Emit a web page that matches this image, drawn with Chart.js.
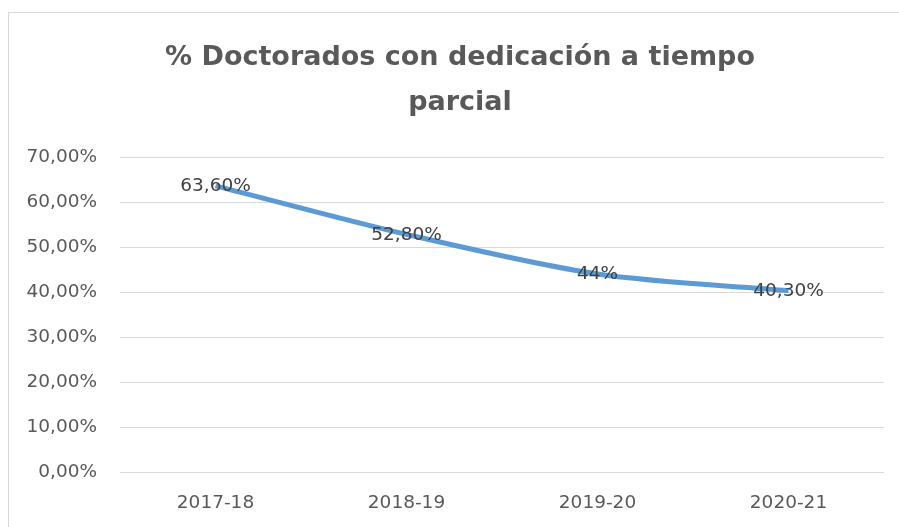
<!DOCTYPE html>
<html>
<head>
<meta charset="utf-8">
<script src="https://cdn.jsdelivr.net/npm/chart.js@4"></script>
<style>
  html, body { margin: 0; padding: 0; background: #fff; }
  #wrap { position: relative; width: 899px; height: 527px; overflow: hidden; }
  #frame { position: absolute; left: 8px; top: 12px; width: 905px; height: 530px; border: 1px solid #d9d9d9; box-sizing: border-box; }
  canvas { position: absolute; left: 0; top: 0; }
</style>
</head>
<body>
<div id="wrap">
  <div id="frame"></div>
  <canvas id="chart" width="899" height="527"></canvas>
</div>
<script>
// ── DATA ──
const categories = ['2017-18', '2018-19', '2019-20', '2020-21']
const valores = [63.6, 52.8, 44, 40.3]
const etiquetas = ['63,60%', '52,80%', '44%', '40,30%']
const tituloLineas = ['% Doctorados con dedicación a tiempo', 'parcial']

const FONT = '"DejaVu Sans", Verdana, sans-serif'

// title centred on the frame (not on the canvas)
const titlePlugin = {
  id: 'frameTitle',
  afterDraw(chart) {
    const ctx = chart.ctx
    ctx.save()
    ctx.font = 'bold 27px ' + FONT
    ctx.fillStyle = '#595959'
    ctx.textAlign = 'center'
    ctx.textBaseline = 'middle'
    tituloLineas.forEach((t, i) => ctx.fillText(t, 460, 58 + i * 45))
    ctx.restore()
  }
}

// data labels centered on each point
const labelsPlugin = {
  id: 'centerLabels',
  afterDatasetsDraw(chart) {
    const ctx = chart.ctx
    const meta = chart.getDatasetMeta(0)
    ctx.save()
    ctx.font = '18.5px ' + FONT
    ctx.fillStyle = '#404040'
    ctx.textAlign = 'center'
    ctx.textBaseline = 'middle'
    meta.data.forEach((pt, i) => {
      ctx.fillText(etiquetas[i], pt.x, pt.y + 0.5)
    })
    ctx.restore()
  }
}

new Chart(document.getElementById('chart'), {
  type: 'line',
  data: {
    labels: categories,
    datasets: [{
      data: valores,
      borderColor: '#5b9bd5',
      borderWidth: 5,
      pointRadius: 0,
      tension: 0.3,
      fill: false
    }]
  },
  options: {
    responsive: false,
    animation: false,
    layout: { padding: { top: 157, left: 0, right: 15, bottom: 13 } },
    plugins: {
      legend: { display: false },
      tooltip: { enabled: false },
      title: { display: false }
    },
    scales: {
      x: {
        offset: true,
        afterFit(scale) { scale.height = 42 },
        grid: { display: false, drawTicks: false },
        border: { display: false },
        ticks: { color: '#595959', font: { family: FONT, size: 18.5 }, padding: 20 }
      },
      y: {
        min: 0,
        max: 70,
        afterFit(scale) { scale.width = 120 },
        grid: { color: '#d9d9d9', lineWidth: 1, drawTicks: false },
        border: { display: false },
        ticks: {
          stepSize: 10,
          color: '#595959',
          font: { family: FONT, size: 18.5 },
          padding: 23,
          callback: v => v.toFixed(2).replace('.', ',') + '%'
        }
      }
    }
  },
  plugins: [labelsPlugin, titlePlugin]
})
</script>
</body>
</html>
